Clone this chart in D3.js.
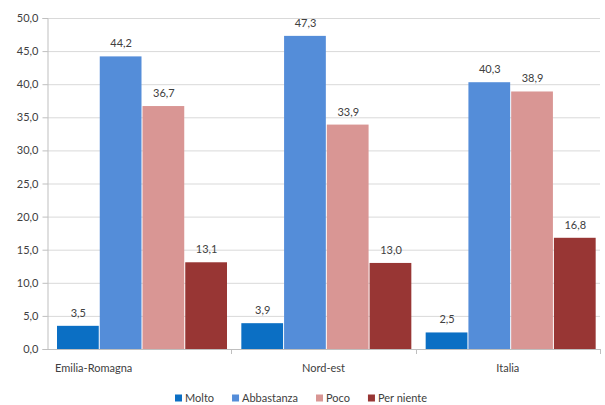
<!DOCTYPE html>
<html>
<head>
<meta charset="utf-8">
<script src="https://cdn.jsdelivr.net/npm/d3@7"></script>
<style>
  body { margin: 0; background: #fff; }
  text { font-family: Lato, "Open Sans", sans-serif; fill: #404040; }
</style>
</head>
<body>
<svg id="chart" width="605" height="405"></svg>
<script>
// Data
var categories = ["Emilia-Romagna", "Nord-est", "Italia"];
var seriesNames = ["Molto", "Abbastanza", "Poco", "Per niente"];
var molto = [3.5, 3.9, 2.5];
var abbastanza = [44.2, 47.3, 40.3];
var poco = [36.7, 33.9, 38.9];
var perNiente = [13.1, 13.0, 16.8];
var yTicks = [0, 5, 10, 15, 20, 25, 30, 35, 40, 45, 50];
var colors = ["#0b6fc4", "#548dd9", "#d99694", "#983634"];

var seriesValues = [molto, abbastanza, poco, perNiente];
var rows = categories.map(function(c, i) {
  return {cat: c, vals: seriesNames.map(function(s, j) { return {name: s, value: seriesValues[j][i], idx: j}; })};
});

var svg = d3.select("#chart");
const margin = {top: 18, bottom: 56, left: 47, right: 5};
var width = 605 - margin.left - margin.right;
var height = 405 - margin.top - margin.bottom;

const g = svg.append("g")
  .attr("transform", `translate(${margin.left}, ${margin.top})`);

const fmt = function(v) { return d3.format(".1f")(v).replace(".", ","); };

const x0 = d3.scaleBand().domain(categories).range([0, width]).padding(0);
const gap = 10;
const x1 = d3.scaleBand().domain(seriesNames)
  .range([gap, x0.bandwidth() - gap / 3]).padding(0);
const y = d3.scaleLinear().domain([0, 50]).range([height, 0]);

// Gridlines
g.append("g").selectAll("line").data(yTicks.slice(1)).join("line")
  .attr("x1", 0).attr("x2", width)
  .attr("y1", d => y(d) + 0.5).attr("y2", d => y(d) + 0.5)
  .attr("stroke", "#d9d9d9");

// Y axis
const yaxis = d3.axisLeft(y).tickValues(yTicks).tickFormat(fmt).tickSize(5).tickPadding(4);
const ya = g.append("g").attr("transform", "translate(0.5,0)").call(yaxis);
ya.select(".domain").attr("stroke", "#bfbfbf");
ya.selectAll(".tick line").attr("stroke", "#bfbfbf");
ya.selectAll(".tick text").style("font-size", "11px").attr("fill", "#404040");

// X axis baseline and category separators
g.append("line").attr("x1", 0).attr("x2", width)
  .attr("y1", height + 0.5).attr("y2", height + 0.5).attr("stroke", "#bfbfbf");
g.append("g").selectAll("line").data(categories.slice(1).concat(["end"])).join("line")
  .attr("x1", (d, i) => Math.round(x0.bandwidth() * (i + 1)) + 0.5)
  .attr("x2", (d, i) => Math.round(x0.bandwidth() * (i + 1)) + 0.5)
  .attr("y1", height).attr("y2", height + 5)
  .attr("stroke", "#bfbfbf");

// Bars
const groups = g.append("g").selectAll("g").data(rows).join("g")
  .attr("transform", d => `translate(${x0(d.cat)},0)`);

groups.selectAll("rect").data(d => d.vals).join("rect")
  .attr("x", d => x1(d.name))
  .attr("width", x1.bandwidth() - 1)
  .attr("y", d => y(d.value))
  .attr("height", d => height - y(d.value))
  .attr("fill", d => colors[d.idx]);

groups.selectAll("text.val").data(d => d.vals).join("text")
  .attr("class", "val")
  .attr("x", d => x1(d.name) + x1.bandwidth() / 2)
  .attr("y", d => y(d.value) - 9)
  .attr("text-anchor", "middle")
  .style("font-size", "11px")
  .text(d => fmt(d.value));

// Category labels
g.append("g").selectAll("text").data(categories).join("text")
  .attr("x", (d, i) => i === 0 ? x0(d) + 8 : x0(d) + x0.bandwidth() / 2)
  .attr("text-anchor", (d, i) => i === 0 ? "start" : "middle")
  .attr("y", height + 23)
  .style("font-size", "11px")
  .text(d => d);

// Legend
const legend = svg.append("g").attr("transform", "translate(175, 398)");
var lx = 0;
seriesNames.forEach(function(s, i) {
  const item = legend.append("g").attr("transform", `translate(${lx},0)`);
  item.append("rect").attr("x", 0).attr("y", -3.5).attr("width", 7).attr("height", 7).attr("fill", colors[i]);
  const t = item.append("text").attr("x", 10).attr("y", 4).style("font-size", "11px").text(s);
  lx += 10 + t.node().getComputedTextLength() + 18;
});
</script>
</body>
</html>
